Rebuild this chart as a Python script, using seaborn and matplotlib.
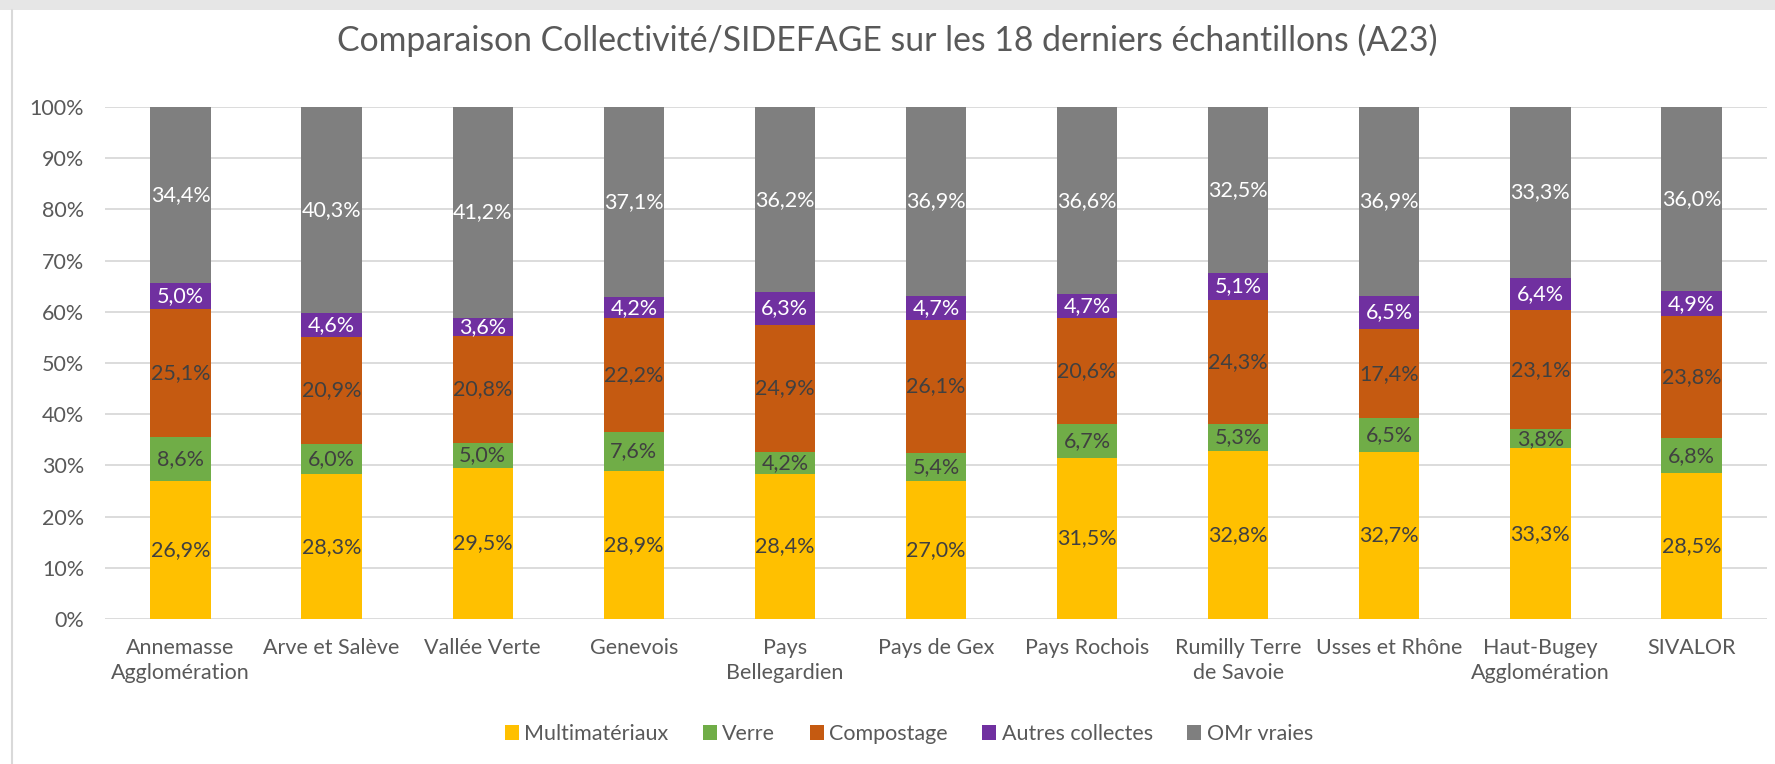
import matplotlib
matplotlib.use('Agg')
import matplotlib.pyplot as plt
from matplotlib.patches import Patch, Rectangle
from matplotlib.lines import Line2D
from matplotlib.ticker import PercentFormatter
import numpy as np
import pandas as pd
import seaborn as sns

sns.set_theme(style="white")
plt.rcParams['font.family'] = ['Lato', 'DejaVu Sans']

# data (percent of each sample)
collectivites = ["Annemasse\nAgglomération", "Arve et Salève", "Vallée Verte", "Genevois",
                 "Pays\nBellegardien", "Pays de Gex", "Pays Rochois", "Rumilly Terre\nde Savoie",
                 "Usses et Rhône", "Haut-Bugey\nAgglomération", "SIVALOR"]
categories = ["Multimatériaux", "Verre", "Compostage", "Autres collectes", "OMr vraies"]
multimateriaux = [26.9, 28.3, 29.5, 28.9, 28.4, 27.0, 31.5, 32.8, 32.7, 33.3, 28.5]
verre = [8.6, 6.0, 5.0, 7.6, 4.2, 5.4, 6.7, 5.3, 6.5, 3.8, 6.8]
compostage = [25.1, 20.9, 20.8, 22.2, 24.9, 26.1, 20.6, 24.3, 17.4, 23.1, 23.8]
autres = [5.0, 4.6, 3.6, 4.2, 6.3, 4.7, 4.7, 5.1, 6.5, 6.4, 4.9]
omr = [34.4, 40.3, 41.2, 37.1, 36.2, 36.9, 36.6, 32.5, 36.9, 33.3, 36.0]

colors = ["#FFC000", "#70AD47", "#C55A11", "#7030A0", "#7F7F7F"]
label_colors = ["#404040", "#404040", "#404040", "white", "white"]
txt = "#595959"
fs = 15.5

series = [multimateriaux, verre, compostage, autres, omr]
vals = np.array(series, dtype=float)
share = vals / vals.sum(axis=0)  # 100% stacked

fig = plt.figure(figsize=(17.75, 7.64), dpi=100)
ax = fig.add_axes([105/1775, 1-619/764, (1767-105)/1775, (619-107)/764])

bottom = np.zeros(len(collectivites))
for i, cat in enumerate(categories):
    df = pd.DataFrame({"coll": collectivites, "share": share[i]})
    sns.barplot(data=df, x="coll", y="share", order=collectivites, color=colors[i],
                saturation=1, width=0.4, bottom=bottom, ax=ax, zorder=3, linewidth=0)
    for j in range(len(collectivites)):
        ax.text(j, bottom[j] + share[i][j]/2, f"{vals[i][j]:.1f}".replace(".", ",") + "%",
                ha="center", va="center", fontsize=fs, color=label_colors[i], zorder=4)
    bottom = bottom + share[i]

ax.set_ylim(0, 1)
ax.set_xlim(-0.5, len(collectivites) - 0.5)
ax.set_yticks(np.arange(0, 1.01, 0.1))
ax.yaxis.set_major_formatter(PercentFormatter(1.0, decimals=0))
ax.grid(axis="y", color="#D9D9D9", linewidth=1.3, zorder=0)
ax.set_axisbelow(True)
for s in ax.spines.values():
    s.set_visible(False)
ax.set_xlabel("")
ax.set_ylabel("")
ax.tick_params(axis="y", length=0, pad=15, labelsize=fs, labelcolor=txt)
ax.tick_params(axis="x", length=0, pad=14, labelsize=fs, labelcolor=txt)
for lab in ax.get_xticklabels():
    lab.set_linespacing(1.3)

fig.text(0.5, 1-40/764, "Comparaison Collectivité/SIDEFAGE sur les 18 derniers échantillons (A23)",
         ha="center", va="center", fontsize=24.3, color=txt)

handles = [Patch(facecolor=c, edgecolor="none") for c in colors]
fig.legend(handles, categories, loc="center", bbox_to_anchor=(0.512, 1-734/764), ncol=5,
           frameon=False, fontsize=fs, labelcolor=txt, handlelength=0.65, handleheight=0.65,
           handletextpad=0.25, columnspacing=1.6)

# frame of the original export
fig.patches.append(Rectangle((0, 1-10/764), 1, 10/764, transform=fig.transFigure,
                             facecolor="#E6E6E6", edgecolor="none"))
fig.lines.append(Line2D([12/1775, 12/1775], [0, 1-10/764], transform=fig.transFigure,
                        color="#D9D9D9", linewidth=1.5))

fig.savefig("out.png", dpi=100)
